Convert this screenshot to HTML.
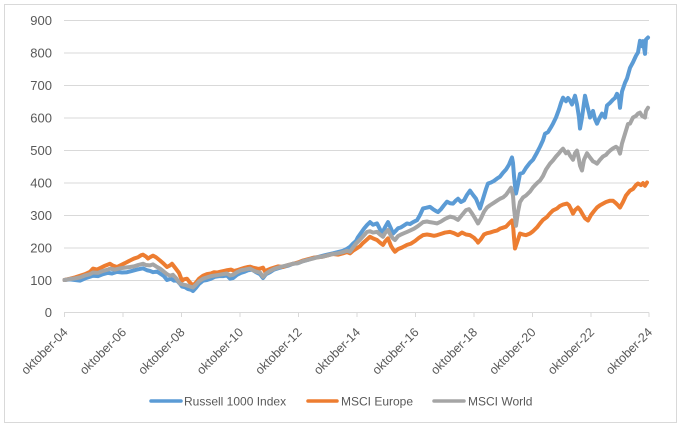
<!DOCTYPE html>
<html><head><meta charset="utf-8"><style>
html,body{margin:0;padding:0;background:#fff;}
svg{display:block;}
text{font-family:"Liberation Sans",Arial,sans-serif;fill:#595959;}
</style></head><body>
<svg width="681" height="426" viewBox="0 0 681 426" xmlns="http://www.w3.org/2000/svg">
<rect x="0" y="0" width="681" height="426" fill="#fff"/>
<rect x="4.5" y="4.5" width="672" height="418" fill="none" stroke="#D9D9D9" stroke-width="1"/>
<g stroke="#D9D9D9" stroke-width="1">
<line x1="64" y1="20.5" x2="649" y2="20.5"/>
<line x1="64" y1="53" x2="649" y2="53"/>
<line x1="64" y1="85.5" x2="649" y2="85.5"/>
<line x1="64" y1="118" x2="649" y2="118"/>
<line x1="64" y1="150.5" x2="649" y2="150.5"/>
<line x1="64" y1="183" x2="649" y2="183"/>
<line x1="64" y1="215.5" x2="649" y2="215.5"/>
<line x1="64" y1="248" x2="649" y2="248"/>
<line x1="64" y1="280.5" x2="649" y2="280.5"/>
<line x1="64" y1="312.5" x2="649" y2="312.5"/>
<line x1="64.5" y1="312.5" x2="64.5" y2="317"/>
<line x1="123" y1="312.5" x2="123" y2="317"/>
<line x1="181.5" y1="312.5" x2="181.5" y2="317"/>
<line x1="240" y1="312.5" x2="240" y2="317"/>
<line x1="298.5" y1="312.5" x2="298.5" y2="317"/>
<line x1="357" y1="312.5" x2="357" y2="317"/>
<line x1="415.5" y1="312.5" x2="415.5" y2="317"/>
<line x1="474" y1="312.5" x2="474" y2="317"/>
<line x1="532.5" y1="312.5" x2="532.5" y2="317"/>
<line x1="591" y1="312.5" x2="591" y2="317"/>
<line x1="649" y1="312.5" x2="649" y2="317"/>
</g>
<g font-size="13" text-anchor="end">
<text x="52" y="25">900</text>
<text x="52" y="57.5">800</text>
<text x="52" y="90">700</text>
<text x="52" y="122.5">600</text>
<text x="52" y="155">500</text>
<text x="52" y="187.5">400</text>
<text x="52" y="220">300</text>
<text x="52" y="252.5">200</text>
<text x="52" y="285">100</text>
<text x="52" y="317">0</text>
</g>
<g font-size="12.5" text-anchor="end">
<text transform="translate(68.5,333) rotate(-45)">oktober-04</text>
<text transform="translate(127,333) rotate(-45)">oktober-06</text>
<text transform="translate(185.5,333) rotate(-45)">oktober-08</text>
<text transform="translate(244,333) rotate(-45)">oktober-10</text>
<text transform="translate(302.5,333) rotate(-45)">oktober-12</text>
<text transform="translate(361,333) rotate(-45)">oktober-14</text>
<text transform="translate(419.5,333) rotate(-45)">oktober-16</text>
<text transform="translate(478,333) rotate(-45)">oktober-18</text>
<text transform="translate(536.5,333) rotate(-45)">oktober-20</text>
<text transform="translate(595,333) rotate(-45)">oktober-22</text>
<text transform="translate(653,333) rotate(-45)">oktober-24</text>
</g>
<g transform="matrix(1 0 0 -0.325 0 312.5)" fill="none" stroke-width="4" stroke-linejoin="round" stroke-linecap="round">
<polyline vector-effect="non-scaling-stroke" stroke="#5B9BD5" points="64.5,100 70,102 75,100 80,98 85,105 90,110 93,113 98,112 103,118 108,122 112,120 117,125 122,123 127,124 132,128 137,132 143,136 147,130 150,128 153,124 157,126 160,120 164,112 167,100 171,104 174,98 177,98 180,88 182,80 185,78 188,72 191,70 193,66 196,76 199,88 203,98 207,100 211,104 215,110 219,112 223,112 227,114 230,104 233,106 237,116 241,122 245,126 248,130 252,132 256,124 260,118 263,106 266,118 270,124 274,132 278,136 283,140 288,144 293,150 298,152 303,158 308,162 313,168 317,170 322,174 327,178 333,182 338,186 343,190 347,196 350,202 353,212 356,220 358,232 361,245 364,258 367,269 370,278 373,270 377,274 379,262 382,243 385,262 388,278 391,258 393,243 396,252 398,259 401,262 404,268 407,274 410,272 413,278 417,284 420,300 423,320 426,322 430,325 433,318 436,312 438,309 441,318 444,330 447,341 450,336 453,335 456,345 458,350 461,340 464,345 467,362 470,375 473,362 476,350 478,335 480,320 483,350 486,380 488,397 491,400 494,405 497,412 500,418 503,430 506,440 509,455 511,470 512,477 513,460 514,420 515,390 516,366 518,395 520,427 523,430 526,445 530,461 533,470 537,492 540,510 543,530 545,550 548,555 551,570 553,581 556,600 559,625 561,645 563,661 566,650 568,660 570,652 572,640 575,667 577,640 579,600 580,566 582,600 585,667 587,640 589,615 590,600 593,620 595,595 597,581 599,595 602,612 605,600 607,637 610,645 613,655 615,660 617,673 619,660 620,630 622,680 625,707 627,720 630,753 633,770 636,790 638,800 640,836 642,820 643,835 645,796 646,840 648,846"/>
<polyline vector-effect="non-scaling-stroke" stroke="#ED7D31" points="64.5,100 70,104 75,108 80,113 85,118 90,125 93,135 97,132 101,138 105,144 110,150 113,144 117,140 121,146 125,152 130,160 134,166 138,170 141,176 143,178 146,172 148,166 150,170 153,175 156,170 160,160 163,152 167,140 170,145 172,150 175,138 177,130 179,122 182,98 184,102 187,104 190,92 193,83 196,92 199,104 203,113 207,118 211,120 214,124 217,123 221,126 224,128 227,130 231,132 234,128 237,130 241,134 245,138 248,140 250,141 253,138 256,136 258,134 260,135 263,138 265,126 267,130 270,134 274,138 278,142 283,140 288,146 293,150 298,154 303,160 308,164 313,168 318,170 323,172 328,176 333,180 338,178 343,182 347,186 350,182 353,190 356,196 360,204 363,214 366,222 370,233 373,228 377,223 380,215 383,208 385,218 388,228 391,205 393,195 395,187 398,195 402,200 407,208 411,212 415,220 419,230 423,238 427,240 431,238 434,236 437,238 441,242 445,246 450,248 454,244 458,238 462,246 466,240 470,238 474,230 477,220 478,215 481,226 484,240 487,244 490,246 494,250 497,252 500,258 503,261 506,264 509,274 512,283 513,270 514,230 515,197 517,215 520,243 523,240 526,238 530,243 533,250 537,262 540,274 543,285 547,294 550,305 553,314 557,320 560,328 563,332 567,335 569,330 571,318 573,304 575,315 578,323 580,316 583,300 585,290 588,283 591,300 594,312 597,323 600,330 603,335 606,340 610,344 613,344 616,336 618,330 620,323 623,340 626,360 630,375 633,380 636,392 638,397 641,392 643,398 645,390 647,400"/>
<polyline vector-effect="non-scaling-stroke" stroke="#A5A5A5" points="64.5,100 70,103 75,105 80,108 85,114 90,118 93,123 98,122 103,128 108,132 110,135 115,132 120,136 125,138 130,140 134,142 138,146 143,150 146,146 150,145 153,148 156,142 160,135 163,128 167,118 170,113 173,116 176,106 180,89 183,86 186,84 190,80 193,77 196,86 199,96 203,104 207,108 211,112 215,114 219,116 223,118 227,120 230,114 233,116 237,124 241,130 245,132 248,134 250,135 253,130 256,126 260,123 263,110 266,120 270,128 274,134 278,138 283,142 288,146 293,150 298,152 303,158 308,162 313,166 318,170 323,172 328,176 333,180 338,182 343,186 347,190 350,187 353,200 356,212 360,224 363,234 367,248 370,250 373,246 377,248 380,240 383,233 385,244 388,254 391,236 393,228 395,223 398,235 401,240 404,244 407,248 410,252 414,258 418,266 423,278 427,280 430,278 434,276 437,274 441,280 445,288 450,295 454,292 458,285 462,300 466,315 469,318 472,305 475,290 478,274 481,290 484,310 487,323 490,330 494,338 497,344 500,350 503,354 506,362 509,375 511,384 513,360 514,320 516,267 518,310 520,340 523,354 526,360 530,372 533,385 537,398 540,406 543,420 546,440 550,458 553,468 556,480 559,490 561,498 563,504 566,490 568,495 570,483 573,470 575,490 577,498 579,470 580,452 582,437 584,470 587,490 590,477 593,465 595,462 597,458 600,470 603,480 606,485 608,492 610,498 613,505 616,510 618,505 620,489 622,520 625,550 628,580 630,581 633,600 636,605 638,612 640,615 642,605 645,600 646,620 648,630"/>
</g>
<g stroke-width="3.5" stroke-linecap="round">
<line x1="151" y1="401" x2="181" y2="401" stroke="#5B9BD5"/>
<line x1="308" y1="401" x2="337" y2="401" stroke="#ED7D31"/>
<line x1="434" y1="401" x2="464" y2="401" stroke="#A5A5A5"/>
</g>
<g font-size="12">
<text x="184" y="405.5">Russell 1000 Index</text>
<text x="341" y="405.5">MSCI Europe</text>
<text x="468" y="405.5">MSCI World</text>
</g>
</svg>
</body></html>
